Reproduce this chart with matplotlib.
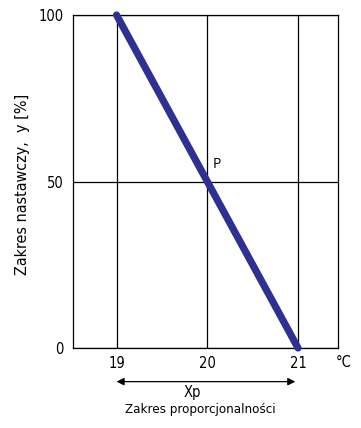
import matplotlib.pyplot as plt

# dane
temp = [19, 21]
nastawa = [100, 0]
x_ticks = [19, 20, 21]
y_ticks = [0, 50, 100]

plt.rcParams['font.family'] = ['DejaVu Sans']
plt.rcParams['font.stretch'] = 'condensed'

fig = plt.figure(figsize=(3.61, 4.28), dpi=100)
ax = fig.add_axes([0.2022, 0.1869, 0.734, 0.778])

ax.plot(temp, nastawa, color="#2e3192", linewidth=5.2, solid_capstyle="round",
        zorder=3, clip_on=False)

ax.set_xlim(18.52, 21.44)
ax.set_ylim(0, 100)
ax.set_xticks(x_ticks)
ax.set_yticks(y_ticks)
ax.tick_params(length=0, labelsize=10.5)
ax.tick_params(axis="x", pad=6)
ax.tick_params(axis="y", pad=7)
ax.grid(True, color="black", linewidth=0.9)
for s in ax.spines.values():
    s.set_linewidth(0.9)

ax.set_ylabel("Zakres nastawczy,  y [%]", fontsize=11.5)
ax.yaxis.set_label_coords(-0.162, 0.49)

ax.text(20.06, 52.8, "P", fontsize=10, family=["Open Sans", "DejaVu Sans"],
        stretch="normal", ha="left", va="bottom")

tr = ax.get_xaxis_transform()
ax.text(21.5, -0.045, "°C", transform=tr, fontsize=10.5, ha="center", va="center")
ax.annotate("", xy=(19.0, -0.101), xytext=(20.97, -0.101), xycoords=tr, textcoords=tr,
            arrowprops=dict(arrowstyle="<|-|>", color="black", lw=0.9,
                            mutation_scale=11, shrinkA=0, shrinkB=0), annotation_clip=False)
ax.text(19.84, -0.135, "Xp", transform=tr, fontsize=10.5, ha="center", va="center")
ax.text(19.92, -0.186, "Zakres proporcjonalności", transform=tr, fontsize=9.5,
        ha="center", va="center")

fig.savefig("out.png", dpi=100)
